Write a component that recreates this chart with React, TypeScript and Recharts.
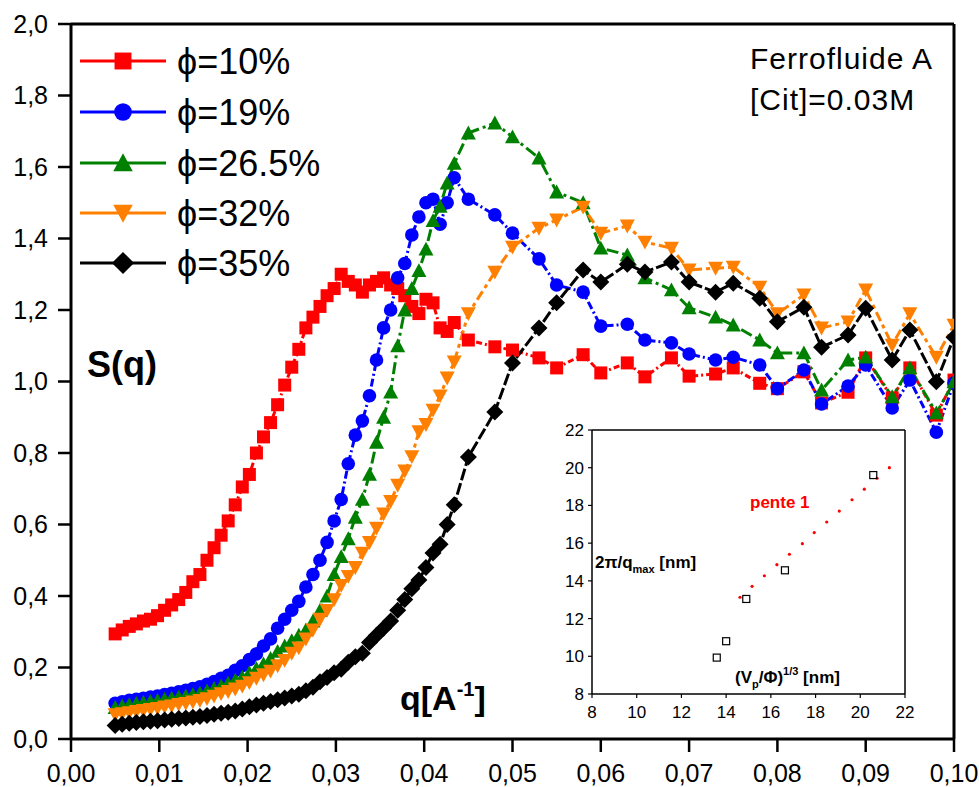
import React from 'react';
import { LineChart, Line, XAxis, YAxis, ScatterChart, Scatter } from 'recharts';

// ---------- data ----------
const Q_DENSE = [
  0.0050, 0.0058, 0.0066, 0.0074, 0.0082, 0.0090, 0.0098, 0.0106, 0.0114, 0.0122,
  0.0130, 0.0138, 0.0146, 0.0154, 0.0162, 0.0170, 0.0178, 0.0186, 0.0194, 0.0202,
  0.0210, 0.0218, 0.0226, 0.0234, 0.0242, 0.0250, 0.0258, 0.0266, 0.0274, 0.0282,
  0.0290, 0.0298, 0.0306, 0.0314, 0.0322, 0.0330, 0.0338, 0.0346, 0.0354, 0.0362,
  0.0370, 0.0378, 0.0386, 0.0394, 0.0402, 0.0410, 0.0418, 0.0426, 0.0434,
];
const Q_SPARSE = [
  0.045, 0.048, 0.050, 0.053, 0.055, 0.058, 0.060, 0.063, 0.065, 0.068, 0.070, 0.073,
  0.075, 0.078, 0.080, 0.083, 0.085, 0.088, 0.090, 0.093, 0.095, 0.098, 0.100,
];

const S10_DENSE = [
  0.294, 0.305, 0.315, 0.322, 0.330, 0.335, 0.345, 0.360, 0.375, 0.390,
  0.410, 0.440, 0.460, 0.500, 0.535, 0.570, 0.610, 0.655, 0.705, 0.740,
  0.800, 0.845, 0.885, 0.935, 0.990, 1.040, 1.090, 1.150, 1.180, 1.210,
  1.240, 1.260, 1.300, 1.280, 1.270, 1.250, 1.270, 1.280, 1.290, 1.270,
  1.260, 1.240, 1.210, 1.190, 1.230, 1.220, 1.150, 1.140, 1.165,
];
const S10_SPARSE = [
  1.116, 1.097, 1.088, 1.066, 1.038, 1.075, 1.024, 1.052, 1.013, 1.066, 1.015, 1.021,
  1.038, 0.995, 0.980, 1.027, 0.940, 0.970, 1.066, 0.954, 1.038, 0.906, 1.004,
];

const S19_DENSE = [
  0.100, 0.104, 0.108, 0.111, 0.114, 0.117, 0.120, 0.124, 0.128, 0.132,
  0.136, 0.141, 0.146, 0.153, 0.161, 0.170, 0.178, 0.192, 0.205, 0.222,
  0.238, 0.260, 0.280, 0.310, 0.335, 0.360, 0.385, 0.425, 0.460, 0.500,
  0.550, 0.610, 0.670, 0.770, 0.850, 0.890, 0.960, 1.060, 1.150, 1.200,
  1.290, 1.330, 1.410, 1.460, 1.500, 1.510, 1.440, 1.500, 1.570,
];
const S19_SPARSE = [
  1.510, 1.466, 1.415, 1.343, 1.270, 1.250, 1.155, 1.160, 1.116, 1.108, 1.077, 1.060,
  1.068, 1.046, 0.980, 1.032, 0.937, 0.987, 1.046, 0.926, 1.004, 0.858, 0.996,
];

const S265_DENSE = [
  0.088, 0.092, 0.096, 0.099, 0.102, 0.105, 0.108, 0.111, 0.114, 0.117,
  0.120, 0.124, 0.128, 0.134, 0.141, 0.148, 0.156, 0.164, 0.173, 0.185,
  0.197, 0.210, 0.225, 0.245, 0.260, 0.275, 0.290, 0.305, 0.330, 0.360,
  0.400, 0.460, 0.510, 0.560, 0.620, 0.670, 0.740, 0.830, 0.900, 0.970,
  1.100, 1.200, 1.260, 1.310, 1.370, 1.450, 1.490, 1.555, 1.610,
];
const S265_SPARSE = [
  1.695, 1.723, 1.684, 1.625, 1.530, 1.500, 1.373, 1.354, 1.290, 1.256, 1.206, 1.180,
  1.158, 1.116, 1.080, 1.080, 0.976, 1.060, 1.068, 0.957, 1.038, 0.912, 0.999,
];

const S32_DENSE = [
  0.068, 0.071, 0.074, 0.077, 0.080, 0.083, 0.086, 0.090, 0.093, 0.097,
  0.100, 0.104, 0.108, 0.113, 0.120, 0.127, 0.133, 0.140, 0.148, 0.158,
  0.170, 0.180, 0.190, 0.205, 0.220, 0.240, 0.255, 0.280, 0.305, 0.335,
  0.360, 0.390, 0.430, 0.455, 0.480, 0.520, 0.550, 0.590, 0.630, 0.665,
  0.710, 0.750, 0.790, 0.860, 0.880, 0.920, 0.960, 1.010, 1.055,
];
const S32_SPARSE = [
  1.190, 1.306, 1.376, 1.429, 1.452, 1.488, 1.415, 1.435, 1.390, 1.373, 1.312, 1.317,
  1.320, 1.264, 1.190, 1.242, 1.150, 1.167, 1.256, 1.102, 1.190, 1.068, 1.158,
];

const S35_DENSE = [
  0.038, 0.041, 0.044, 0.046, 0.048, 0.050, 0.051, 0.053, 0.055, 0.057,
  0.059, 0.061, 0.063, 0.066, 0.069, 0.072, 0.075, 0.078, 0.084, 0.090,
  0.095, 0.100, 0.105, 0.110, 0.115, 0.120, 0.125, 0.135, 0.145, 0.160,
  0.172, 0.185, 0.195, 0.215, 0.230, 0.240, 0.270, 0.290, 0.310, 0.330,
  0.360, 0.390, 0.420, 0.445, 0.480, 0.520, 0.545, 0.600, 0.655,
];
const S35_SPARSE = [
  0.789, 0.915, 1.052, 1.150, 1.220, 1.312, 1.278, 1.328, 1.306, 1.334, 1.278, 1.250,
  1.275, 1.233, 1.167, 1.208, 1.096, 1.130, 1.205, 1.060, 1.144, 0.999, 1.124,
];

const X_TICKS = [0, 0.01, 0.02, 0.03, 0.04, 0.05, 0.06, 0.07, 0.08, 0.09, 0.1];
const X_MINOR = [0.005, 0.015, 0.025, 0.035, 0.045, 0.055, 0.065, 0.075, 0.085, 0.095];
const X_TOP = [0, 0.005, 0.01, 0.015, 0.02, 0.025, 0.03, 0.035, 0.04, 0.045, 0.05, 0.055, 0.06, 0.065, 0.07, 0.075, 0.08, 0.085, 0.09, 0.095, 0.1];
const Y_TICKS = [0, 0.2, 0.4, 0.6, 0.8, 1.0, 1.2, 1.4, 1.6, 1.8, 2.0];
const Y_MINOR = [0.1, 0.3, 0.5, 0.7, 0.9, 1.1, 1.3, 1.5, 1.7, 1.9];
const Y_RIGHT = [0, 0.1, 0.2, 0.3, 0.4, 0.5, 0.6, 0.7, 0.8, 0.9, 1.0, 1.1, 1.2, 1.3, 1.4, 1.5, 1.6, 1.7, 1.8, 1.9, 2.0];

// inset data
const INSET_X = [13.58, 14.0, 14.9, 16.63, 20.58];
const INSET_Y = [9.93, 10.8, 13.04, 14.56, 19.61];
const SLOPE_X = [14.62, 15.16, 15.71, 16.27, 16.83, 17.41, 17.94, 18.5, 19.06, 19.63, 20.18, 20.75, 21.3];
const SLOPE_Y = [13.13, 13.71, 14.27, 14.86, 15.41, 15.97, 16.56, 17.12, 17.7, 18.3, 18.86, 19.44, 20.0];
const INSET_MAJOR = [8, 10, 12, 14, 16, 18, 20, 22];
const INSET_MINOR = [9, 11, 13, 15, 17, 19, 21];
const INSET_ALL = [8, 9, 10, 11, 12, 13, 14, 15, 16, 17, 18, 19, 20, 21, 22];

const SERIES_NAMES = ['ϕ=10%', 'ϕ=19%', 'ϕ=26.5%', 'ϕ=32%', 'ϕ=35%'];
const SERIES_COLORS = ['#ff0000', '#0000ff', '#008000', '#ff8000', '#000000'];
const SERIES_SHAPES = ['square', 'circle', 'up', 'down', 'diamond'];
const SERIES_DASH = ['6 3 2 3', '8 3 2 3', '12 4 3 4', '10 4 4 4', '12 3'];

const build = (dense: number[], sparse: number[]) => [
  ...Q_DENSE.map((q, i) => ({ q, s: dense[i] })),
  ...Q_SPARSE.map((q, i) => ({ q, s: sparse[i] })),
];
const SERIES_DATA = [
  build(S10_DENSE, S10_SPARSE),
  build(S19_DENSE, S19_SPARSE),
  build(S265_DENSE, S265_SPARSE),
  build(S32_DENSE, S32_SPARSE),
  build(S35_DENSE, S35_SPARSE),
];
const INSET_DATA = INSET_X.map((x, i) => ({ x, y: INSET_Y[i] }));
const SLOPE_DATA = SLOPE_X.map((x, i) => ({ x, y: SLOPE_Y[i] }));

const FONT = '"Liberation Sans", Arial, Helvetica, sans-serif';

function Marker({ shape, cx, cy, color, k = 1 }: { shape: string; cx: number; cy: number; color: string; k?: number }) {
  if (cx == null || cy == null) return null;
  if (shape === 'square') {
    const h = 6.5 * k;
    return <rect x={cx - h} y={cy - h} width={2 * h} height={2 * h} fill={color} />;
  }
  if (shape === 'circle') return <circle cx={cx} cy={cy} r={6.8 * k} fill={color} />;
  if (shape === 'up') {
    const h = 7.5 * k;
    return <polygon points={`${cx},${cy - h} ${cx + h},${cy + h * 0.85} ${cx - h},${cy + h * 0.85}`} fill={color} />;
  }
  if (shape === 'down') {
    const h = 7.5 * k;
    return <polygon points={`${cx},${cy + h} ${cx + h},${cy - h * 0.85} ${cx - h},${cy - h * 0.85}`} fill={color} />;
  }
  const h = 8.5 * k;
  return <polygon points={`${cx},${cy - h} ${cx + h},${cy} ${cx},${cy + h} ${cx - h},${cy}`} fill={color} />;
}

const fmtX = (v: number) => v.toFixed(2).replace('.', ',');
const fmtY = (v: number) => v.toFixed(1).replace('.', ',');

const axisLineStyle = { stroke: '#000', strokeWidth: 3 };
const tickLineStyle = { stroke: '#000', strokeWidth: 2.5 };
const tickText = { fill: '#000', fontSize: 25, fontFamily: FONT };

function Overlay() {
  const rows = [61, 112, 163, 213, 263];
  return (
    <svg width={979} height={787} style={{ position: 'absolute', left: 0, top: 0, pointerEvents: 'none' }}>
      {SERIES_NAMES.map((name, i) => (
        <g key={name}>
          <line x1={80} x2={166} y1={rows[i]} y2={rows[i]} stroke={SERIES_COLORS[i]} strokeWidth={3} />
          <Marker shape={SERIES_SHAPES[i]} cx={123} cy={rows[i]} color={SERIES_COLORS[i]} k={1.3} />
          <text x={177} y={rows[i] + 13} fontSize={36} fontFamily={FONT} fill="#000">{name}</text>
        </g>
      ))}
      <text x={750} y={69} fontSize={30} letterSpacing={1} fontFamily={FONT} fill="#000">Ferrofluide A</text>
      <text x={750} y={110} fontSize={30} letterSpacing={1} fontFamily={FONT} fill="#000">[Cit]=0.03M</text>
      <text x={87} y={377} fontSize={36} fontWeight="bold" fontFamily={FONT} fill="#000">S(q)</text>
      <text x={400} y={710} fontSize={34} fontWeight="bold" fontFamily={FONT} fill="#000">
        q[A<tspan fontSize={20} dy={-14}>-1</tspan><tspan dy={14}>]</tspan>
      </text>
      <text x={750} y={508} fontSize={17} fontWeight="bold" fontFamily={FONT} fill="#ff0000">pente 1</text>
      <text x={595} y={568} fontSize={17} fontWeight="bold" fontFamily={FONT} fill="#000">
        2π/q<tspan fontSize={11} dy={5}>max</tspan><tspan dy={-5}> [nm]</tspan>
      </text>
      <text x={735} y={683} fontSize={17} fontWeight="bold" fontFamily={FONT} fill="#000">
        (V<tspan fontSize={11} dy={5}>p</tspan><tspan dy={-5}>/Φ)</tspan><tspan fontSize={11} dy={-8}>1/3</tspan><tspan dy={8}> [nm]</tspan>
      </text>
    </svg>
  );
}

function Inset() {
  const small = { fill: '#000', fontSize: 17, fontFamily: FONT };
  const axl = { stroke: '#000', strokeWidth: 1.5 };
  const tl = { stroke: '#000', strokeWidth: 1.2 };
  return (
    <div style={{ position: 'absolute', left: 540, top: 410 }}>
      <ScatterChart width={400} height={330} margin={{ top: 19, right: 34, bottom: 44, left: 50 }}>
        <XAxis xAxisId="b" type="number" dataKey="x" domain={[8, 22]} ticks={INSET_MAJOR} height={1}
          axisLine={axl} tickLine={tl} tickSize={4} tickMargin={8} tick={small} interval={0} allowDataOverflow />
        <XAxis xAxisId="bm" type="number" dataKey="x" domain={[8, 22]} ticks={INSET_MINOR} height={1}
          axisLine={false} tickLine={tl} tickSize={-5} tick={false} interval={0} allowDataOverflow />
        <XAxis xAxisId="t" orientation="top" type="number" dataKey="x" domain={[8, 22]} ticks={INSET_ALL} height={1}
          axisLine={axl} tickLine={tl} tickSize={-4} tick={false} interval={0} allowDataOverflow />
        <YAxis yAxisId="l" type="number" dataKey="y" domain={[8, 22]} ticks={INSET_MAJOR} width={1}
          axisLine={axl} tickLine={tl} tickSize={4} tickMargin={4} tick={small} interval={0} allowDataOverflow />
        <YAxis yAxisId="lm" type="number" dataKey="y" domain={[8, 22]} ticks={INSET_MINOR} width={1}
          axisLine={false} tickLine={tl} tickSize={-5} tick={false} interval={0} allowDataOverflow />
        <YAxis yAxisId="r" orientation="right" type="number" dataKey="y" domain={[8, 22]} ticks={INSET_ALL} width={1}
          axisLine={axl} tickLine={tl} tickSize={-4} tick={false} interval={0} allowDataOverflow />
        <Scatter xAxisId="b" yAxisId="l" data={SLOPE_DATA} isAnimationActive={false}
          shape={(p: any) => <circle cx={p.cx} cy={p.cy} r={1.6} fill="#ff0000" />} />
        <Scatter xAxisId="b" yAxisId="l" data={INSET_DATA} isAnimationActive={false}
          shape={(p: any) => <rect x={p.cx - 3.5} y={p.cy - 3.5} width={7} height={7} fill="none" stroke="#000" strokeWidth={1.2} />} />
      </ScatterChart>
    </div>
  );
}

export default function App() {
  return (
    <div style={{ position: 'absolute', left: 0, top: 0, width: 979, height: 787, background: '#fff' }}>
      <LineChart width={979} height={787} margin={{ top: 23, right: 24, bottom: 46, left: 69 }}>
        <XAxis xAxisId="main" type="number" dataKey="q" domain={[0, 0.1]} ticks={X_TICKS} height={1}
          tickFormatter={fmtX} axisLine={axisLineStyle} tickLine={tickLineStyle} tickSize={13} tickMargin={12}
          tick={tickText} interval={0} allowDataOverflow />
        <XAxis xAxisId="minor" type="number" dataKey="q" domain={[0, 0.1]} ticks={X_MINOR} height={1}
          axisLine={false} tickLine={tickLineStyle} tickSize={6} tick={false} interval={0} allowDataOverflow />
        <XAxis xAxisId="top" orientation="top" type="number" dataKey="q" domain={[0, 0.1]} ticks={X_TOP} height={1}
          axisLine={axisLineStyle} tickLine={tickLineStyle} tickSize={-13} tick={false} interval={0} allowDataOverflow />
        <YAxis yAxisId="main" type="number" dataKey="s" domain={[0, 2]} ticks={Y_TICKS} width={1}
          tickFormatter={fmtY} axisLine={axisLineStyle} tickLine={tickLineStyle} tickSize={13} tickMargin={10}
          tick={tickText} interval={0} allowDataOverflow />
        <YAxis yAxisId="minor" type="number" dataKey="s" domain={[0, 2]} ticks={Y_MINOR} width={1}
          axisLine={false} tickLine={tickLineStyle} tickSize={6} tick={false} interval={0} allowDataOverflow />
        <YAxis yAxisId="right" orientation="right" type="number" dataKey="s" domain={[0, 2]} ticks={Y_RIGHT} width={1}
          axisLine={axisLineStyle} tickLine={tickLineStyle} tickSize={-15} tick={false} interval={0} allowDataOverflow />
        {SERIES_DATA.map((data, i) => (
          <Line key={SERIES_NAMES[i]} xAxisId="main" yAxisId="main" data={data} dataKey="s" type="linear"
            stroke={SERIES_COLORS[i]} strokeWidth={3} strokeDasharray={SERIES_DASH[i]} isAnimationActive={false}
            name={SERIES_NAMES[i]}
            dot={(p: any) => (
              <g key={`d${i}-${p.index}`}>
                <Marker shape={SERIES_SHAPES[i]} cx={p.cx} cy={p.cy} color={SERIES_COLORS[i]} />
              </g>
            )}
            activeDot={false} />
        ))}
      </LineChart>
      <Inset />
      <Overlay />
    </div>
  );
}
